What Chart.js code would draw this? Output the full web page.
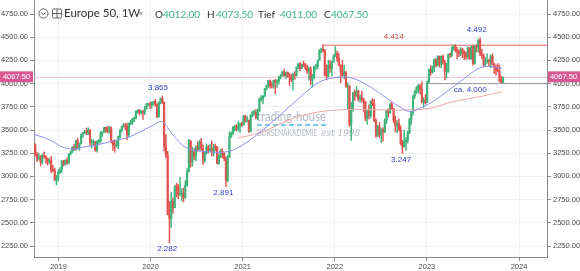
<!DOCTYPE html>
<html>
<head>
<meta charset="utf-8">
<script src="https://cdn.jsdelivr.net/npm/chart.js@4.4.0/dist/chart.umd.min.js"></script>
<style>
  html, body { margin: 0; padding: 0; background: #fff; }
  #wrap { position: relative; width: 580px; height: 271px; }
  #header { position: absolute; left: 0; top: 0; width: 580px; height: 26px; pointer-events: none;
            font-family: Lato, "Noto Sans", sans-serif; color: #333; }
  #header span { position: absolute; white-space: nowrap; }
  .lbl { font-size: 10px; top: 8px; }
  .val { font-size: 10px; top: 8px; color: #3fb487; }
</style>
</head>
<body>
<div id="wrap">
  <canvas id="chart" width="580" height="271"></canvas>
  <div id="header">
    <svg style="position:absolute;left:38px;top:8px" width="26" height="11" viewBox="0 0 26 11">
      <circle cx="5.5" cy="5.5" r="4.6" fill="none" stroke="#555" stroke-width="0.9"/>
      <polyline points="3.4,4.6 5.5,6.6 7.6,4.6" fill="none" stroke="#555" stroke-width="0.9"/>
      <rect x="14.5" y="1" width="9" height="9" rx="1.5" fill="none" stroke="#555" stroke-width="0.9"/>
      <line x1="19" y1="1" x2="19" y2="10" stroke="#555" stroke-width="0.9"/>
      <line x1="14.5" y1="5.5" x2="23.5" y2="5.5" stroke="#555" stroke-width="0.9"/>
    </svg>
    <span style="left:64px;top:6px;font-size:11.5px;">Europe 50, 1W</span>
    <span style="left:139px;top:8px;font-size:8px;color:#aaa;">&#9662;</span>
    <span class="lbl" style="left:155px;">O</span><span class="val" style="left:163px;">4012.00</span>
    <span class="lbl" style="left:207px;">H</span><span class="val" style="left:216px;">4073.50</span>
    <span class="lbl" style="left:258px;">Tief</span><span class="val" style="left:280px;">4011.00</span>
    <span class="lbl" style="left:324px;">C</span><span class="val" style="left:331px;">4067.50</span>
  </div>
</div>
<script>
// weekly candles, first week starting 1 Oct 2018
const firstWeek = 2018.748;
const weekStep = 7 / 365.25;
const firstOpen = 3342;

const closes = [
  3238, 3194, 3207, 3159, 3228, 3211, 3187, 3156, 3173, 3067, 3062, 2960, 2986,
  3041, 3071, 3164, 3134, 3173, 3142, 3238, 3265, 3317, 3289, 3386, 3306, 3352,
  3448, 3471, 3488, 3467, 3503, 3363, 3364, 3365, 3280, 3376, 3385, 3467, 3474,
  3527, 3492, 3483, 3524, 3376, 3334, 3331, 3333, 3426, 3495, 3538, 3552, 3541,
  3447, 3570, 3579, 3621, 3623, 3700, 3712, 3686, 3704, 3690, 3731, 3776, 3782,
  3773, 3799, 3808, 3779, 3640, 3798, 3840, 3800, 3329, 3232, 2586, 2548, 2728,
  2662, 2892, 2888, 2809, 2810, 2820, 2770, 2905, 3050, 3384, 3154, 3266, 3220,
  3320, 3296, 3371, 3306, 3174, 3252, 3315, 3277, 3301, 3260, 3316, 3315, 3138,
  3215, 3273, 3245, 3194, 2959, 3206, 3432, 3467, 3527, 3537, 3510, 3545, 3562, 3553,
  3645, 3600, 3602, 3481, 3655, 3689, 3689, 3636, 3706, 3833, 3837, 3867, 3945,
  3978, 4032, 3979, 3975, 4035, 4017, 4025, 4071, 4093, 4126, 4084, 4121, 4084,
  4070, 4042, 4098, 4089, 4176, 4213, 4165, 4202, 4201, 4169, 4140, 4158, 4036,
  4078, 4182, 4189, 4250, 4363, 4370, 4356, 4090, 4080, 4199, 4161, 4234, 4298,
  4324, 4272, 4201, 4137, 4094, 4126, 3970, 3970, 3556, 3728, 3903, 3867, 3918,
  3835, 3848, 3830, 3803, 3629, 3703, 3657, 3810, 3783, 3599, 3438, 3533, 3448,
  3505, 3477, 3605, 3708, 3688, 3776, 3730, 3603, 3544, 3570, 3500, 3349, 3318,
  3376, 3381, 3476, 3613, 3688, 3867, 3924, 3962, 3977, 3942, 3804, 3818, 3794,
  4017, 4151, 4120, 4178, 4257, 4198, 4296, 4201, 4294, 4229, 4130, 4131, 4315,
  4309, 4392, 4408, 4359, 4340, 4323, 4372, 4345, 4323, 4290, 4384, 4271, 4399,
  4216, 4400, 4391, 4467, 4322, 4300, 4207, 4236, 4250, 4240, 4295, 4207, 4175,
  4145, 4131, 4024, 4012, 4067.5
];
const highs = [
  3352, 3262, 3250, 3225, 3240, 3265, 3225, 3200, 3195, 3215, 3120, 3090, 3010,
  3070, 3095, 3170, 3175, 3180, 3200, 3245, 3275, 3320, 3345, 3390, 3410, 3360,
  3455, 3475, 3495, 3520, 3525, 3495, 3400, 3395, 3380, 3385, 3400, 3485, 3480,
  3530, 3530, 3540, 3540, 3535, 3390, 3395, 3385, 3435, 3505, 3545, 3570, 3570,
  3575, 3575, 3605, 3625, 3640, 3710, 3720, 3722, 3710, 3710, 3755, 3790, 3785,
  3800, 3805, 3810, 3830, 3775, 3805, 3845, 3867, 3770, 3450, 3270, 2730, 2830,
  2770, 2900, 2925, 2915, 2990, 2870, 2875, 2955, 3085, 3400, 3385, 3315, 3300,
  3330, 3370, 3390, 3410, 3340, 3270, 3350, 3335, 3345, 3380, 3345, 3350, 3325,
  3240, 3290, 3300, 3260, 3210, 3230, 3480, 3480, 3540, 3550, 3560, 3590, 3580, 3585,
  3660, 3660, 3650, 3610, 3665, 3700, 3715, 3720, 3730, 3845, 3870, 3870, 3950,
  3985, 4035, 4040, 4020, 4040, 4045, 4040, 4075, 4100, 4130, 4150, 4125, 4125,
  4110, 4100, 4110, 4130, 4180, 4215, 4230, 4210, 4245, 4220, 4200, 4180, 4180,
  4100, 4190, 4210, 4255, 4365, 4380, 4414, 4370, 4200, 4250, 4250, 4240, 4310,
  4400, 4350, 4330, 4200, 4250, 4200, 4130, 4010, 3980, 3800, 3910, 3930, 3970,
  3930, 3880, 3920, 3845, 3810, 3710, 3770, 3815, 3840, 3830, 3620, 3550, 3580,
  3515, 3525, 3620, 3715, 3730, 3790, 3800, 3735, 3650, 3600, 3620, 3545, 3390,
  3500, 3420, 3490, 3625, 3700, 3875, 3925, 3970, 3995, 3990, 4020, 3850, 3880,
  4030, 4160, 4195, 4190, 4265, 4270, 4300, 4280, 4300, 4310, 4250, 4220, 4320,
  4330, 4395, 4415, 4420, 4390, 4365, 4390, 4380, 4355, 4340, 4400, 4390, 4405,
  4410, 4410, 4420, 4480, 4492, 4370, 4320, 4280, 4320, 4265, 4310, 4320, 4220,
  4200, 4215, 4200, 4080, 4073.5
];
const lows = [
  3218, 3160, 3175, 3113, 3135, 3200, 3140, 3122, 3140, 3040, 3050, 2955, 2909,
  2950, 3030, 3045, 3110, 3120, 3130, 3135, 3230, 3255, 3280, 3280, 3295, 3280,
  3350, 3420, 3460, 3450, 3450, 3335, 3305, 3330, 3270, 3260, 3355, 3360, 3430,
  3470, 3475, 3470, 3465, 3360, 3280, 3260, 3315, 3300, 3410, 3480, 3530, 3500,
  3395, 3425, 3555, 3560, 3590, 3620, 3680, 3660, 3670, 3615, 3665, 3725, 3760,
  3730, 3735, 3765, 3755, 3630, 3640, 3780, 3785, 3275, 3200, 2600, 2282, 2450,
  2600, 2680, 2780, 2760, 2790, 2735, 2725, 2765, 2895, 3055, 3100, 3110, 3180,
  3170, 3270, 3280, 3280, 3130, 3150, 3240, 3250, 3270, 3220, 3220, 3280, 3135,
  3130, 3200, 3200, 3170, 2891, 2940, 3250, 3420, 3450, 3490, 3490, 3490, 3475, 3540,
  3550, 3585, 3585, 3475, 3480, 3640, 3660, 3620, 3610, 3700, 3810, 3780, 3860,
  3930, 3960, 3950, 3950, 3950, 3890, 3960, 3995, 4050, 4080, 4080, 4050, 4070,
  3980, 4020, 3930, 4045, 4080, 4160, 4140, 4160, 4180, 4150, 4110, 4040, 3990,
  3960, 4050, 4150, 4160, 4250, 4330, 4340, 4085, 4040, 4070, 4120, 4080, 4230,
  4290, 4240, 4190, 4010, 4080, 4050, 3960, 3720, 3540, 3387, 3700, 3820, 3860,
  3810, 3800, 3800, 3700, 3600, 3560, 3620, 3630, 3760, 3590, 3420, 3430, 3420,
  3360, 3380, 3470, 3570, 3640, 3680, 3720, 3580, 3480, 3470, 3490, 3340, 3247,
  3320, 3280, 3360, 3460, 3560, 3660, 3840, 3890, 3900, 3890, 3790, 3740, 3780,
  3810, 4010, 4090, 4110, 4130, 4180, 4190, 4180, 4170, 4210, 4040, 4060, 4120,
  4280, 4290, 4360, 4340, 4270, 4290, 4300, 4280, 4260, 4260, 4270, 4260, 4260,
  4200, 4210, 4340, 4340, 4300, 4270, 4180, 4190, 4220, 4190, 4170, 4200, 4110,
  4090, 4130, 4020, 4011, 4011
];

// moving averages (year, value)
const fastMaYears = [2018.734, 2018.908, 2019.049, 2019.157, 2019.266, 2019.418, 2019.592, 2019.776,
  2019.939, 2020.015, 2020.124, 2020.243, 2020.395, 2020.612, 2020.829, 2020.970, 2021.220, 2021.589,
  2021.839, 2022.056, 2022.197, 2022.382, 2022.566, 2022.729, 2022.816, 2022.925, 2023.034, 2023.142,
  2023.360, 2023.577, 2023.707, 2023.816];
const fastMaValues = [3454, 3392, 3314, 3295, 3314, 3339, 3382, 3428,
  3508, 3545, 3590, 3446, 3306, 3266, 3266, 3320, 3500, 3823,
  4020, 4070, 4057, 3967, 3842, 3734, 3700, 3735, 3788, 3859,
  4021, 4172, 4183, 4165];
const slowMaYears = [2020.951, 2021.189, 2021.406, 2021.589, 2021.839, 2022.056, 2022.197, 2022.566,
  2022.816, 2023.034, 2023.284, 2023.577, 2023.816];
const slowMaValues = [3415, 3470, 3565, 3640, 3697, 3716, 3723, 3716,
  3716, 3734, 3805, 3860, 3913];

const yearTicks = [2019, 2020, 2021, 2022, 2023, 2024];
const priceTicks = [2250, 2500, 2750, 3000, 3250, 3500, 3750, 4000, 4250, 4500, 4750];
const xMin = 2018.734, xMax = 2024.304;
const yMin = 2131.5, yMax = 4901;

const resistance = 4414, resistanceFrom = 2021.86;
const support = 4000, supportFrom = 2023.0;
const lastPrice = 4067.5;

const noteYears = [2020.08, 2020.18, 2020.79, 2022.64, 2022.72, 2023.54, 2023.47];
const noteValues = [3865, 2282, 2891, 4414, 3247, 4492, 4000];
const noteTexts = ["3.865", "2.282", "2.891", "4.414", "3.247", "4.492", "ca. 4.000"];
const noteBelow = [false, true, true, false, true, false, true];

const UP = "#3fb47a";
const DOWN = "#e2514d";

const opens = closes.map((c, i) => (i === 0 ? firstOpen : closes[i - 1]));
const weekX = closes.map((c, i) => firstWeek + i * weekStep);
const bodies = closes.map((c, i) => ({ x: weekX[i], y: [opens[i], c] }));
const wicks = closes.map((c, i) => ({
  x: weekX[i],
  y: [Math.min(lows[i], opens[i], c), Math.max(highs[i], opens[i], c)],
}));
const colors = closes.map((c, i) => (c >= opens[i] ? UP : DOWN));

const tickFont = { size: 7.5, family: "'Liberation Sans', Arial, sans-serif" };

function yAxis(position, width) {
  return {
    type: "linear",
    position: position,
    min: yMin,
    max: yMax,
    afterBuildTicks: (axis) => { axis.ticks = priceTicks.map((v) => ({ value: v })); },
    afterFit: (axis) => { axis.width = width; axis.paddingTop = 0; axis.paddingBottom = 0; },
    grid: {
      color: "#eef0f4",
      tickColor: "#8c8c8c",
      tickLength: 4,
      drawOnChartArea: position === "left",
    },
    border: { color: "#8c8c8c" },
    ticks: { font: tickFont, color: "#4a4a4a", padding: 2, callback: (v) => v.toFixed(2) },
  };
}

const overlay = {
  id: "overlay",
  beforeDatasetsDraw(chart) {
    const ctx = chart.ctx;
    ctx.save();
    ctx.globalAlpha = 0.7;
    ctx.fillStyle = "#9098a2";
    ctx.textBaseline = "alphabetic";
    ctx.font = "13px Lato, sans-serif";
    let w = ctx.measureText("trading-house").width;
    ctx.save();
    ctx.translate(257, 121);
    ctx.scale(69 / w, 1);
    ctx.fillText("trading-house", 0, 0);
    ctx.restore();
    ctx.strokeStyle = "#3fb0e8";
    ctx.lineWidth = 2;
    ctx.setLineDash([5, 3]);
    ctx.beginPath();
    ctx.moveTo(257, 125);
    ctx.lineTo(327, 125);
    ctx.stroke();
    ctx.setLineDash([]);
    ctx.font = "8.5px Lato, sans-serif";
    w = ctx.measureText("BÖRSENAKADEMIE").width;
    ctx.save();
    ctx.translate(257, 136);
    ctx.scale(60 / w, 1);
    ctx.fillText("BÖRSENAKADEMIE", 0, 0);
    ctx.restore();
    ctx.font = "italic 9px 'DejaVu Serif', serif";
    ctx.fillText("est 1998", 321, 136);
    ctx.restore();
  },
  afterDatasetsDraw(chart) {
    const ctx = chart.ctx;
    const xs = chart.scales.x, ys = chart.scales.y;
    ctx.save();
    ctx.font = "8px 'Liberation Sans', Arial, sans-serif";
    ctx.textAlign = "center";
    ctx.textBaseline = "middle";
    noteTexts.forEach((t, i) => {
      const px = xs.getPixelForValue(noteYears[i]);
      const py = ys.getPixelForValue(noteValues[i]) + (noteBelow[i] ? 6 : -8);
      ctx.fillStyle = noteValues[i] === resistance ? "#d64545" : "#2c3cc4";
      ctx.fillText(t, px, py);
    });
    ctx.restore();
  },
  afterDraw(chart) {
    const ctx = chart.ctx;
    const area = chart.chartArea;
    const py = chart.scales.y.getPixelForValue(lastPrice);
    ctx.save();
    ctx.fillStyle = "#d95a92";
    ctx.fillRect(0, py - 6, area.left - 1, 11);
    ctx.fillRect(area.right + 1, py - 6, chart.width - area.right - 1, 11);
    ctx.fillStyle = "#fff";
    ctx.font = "7.5px 'Liberation Sans', Arial, sans-serif";
    ctx.textBaseline = "middle";
    ctx.textAlign = "center";
    ctx.fillText(lastPrice.toFixed(2), (area.left - 1) / 2, py - 0.5);
    ctx.fillText(lastPrice.toFixed(2), (area.right + chart.width) / 2, py - 0.5);
    ctx.restore();
  },
};

new Chart(document.getElementById("chart"), {
  type: "bar",
  data: {
    datasets: [
      {
        type: "line",
        data: fastMaYears.map((x, i) => ({ x: x, y: fastMaValues[i] })),
        borderColor: "#8d90ee",
        borderWidth: 1,
        pointRadius: 0,
        tension: 0.35,
        order: 0,
      },
      {
        type: "line",
        data: slowMaYears.map((x, i) => ({ x: x, y: slowMaValues[i] })),
        borderColor: "#eaa8a4",
        borderWidth: 1,
        pointRadius: 0,
        tension: 0.35,
        order: 0,
      },
      {
        data: bodies,
        backgroundColor: colors,
        barThickness: 1.5,
        minBarLength: 1,
        grouped: false,
        order: 1,
      },
      {
        data: wicks,
        backgroundColor: colors,
        barThickness: 0.8,
        grouped: false,
        order: 2,
      },
      {
        type: "line",
        data: [{ x: resistanceFrom, y: resistance }, { x: xMax, y: resistance }],
        borderColor: "#e06262",
        borderWidth: 1,
        pointRadius: 0,
        order: 3,
      },
      {
        type: "line",
        data: [{ x: supportFrom, y: support }, { x: xMax, y: support }],
        borderColor: "#959595",
        borderWidth: 1,
        pointRadius: 0,
        order: 3,
      },
      {
        type: "line",
        data: [{ x: xMin, y: lastPrice }, { x: xMax, y: lastPrice }],
        borderColor: "#ebc5d6",
        borderWidth: 1,
        pointRadius: 0,
        order: 4,
      },
    ],
  },
  options: {
    responsive: false,
    animation: false,
    devicePixelRatio: 1,
    layout: { padding: 0 },
    plugins: { legend: { display: false }, tooltip: { enabled: false } },
    scales: {
      x: {
        type: "linear",
        min: xMin,
        max: xMax,
        offset: false,
        afterBuildTicks: (axis) => { axis.ticks = yearTicks.map((v) => ({ value: v })); },
        afterFit: (axis) => { axis.height = 14; axis.paddingLeft = 0; axis.paddingRight = 0; },
        grid: { offset: false, color: "#eef0f4", tickColor: "#8c8c8c", tickLength: 4 },
        border: { color: "#8c8c8c" },
        ticks: { font: tickFont, color: "#4a4a4a", padding: 1, maxRotation: 0, callback: (v) => String(v) },
      },
      y: yAxis("left", 34),
      y2: yAxis("right", 33),
    },
  },
  plugins: [overlay],
});
</script>
</body>
</html>
